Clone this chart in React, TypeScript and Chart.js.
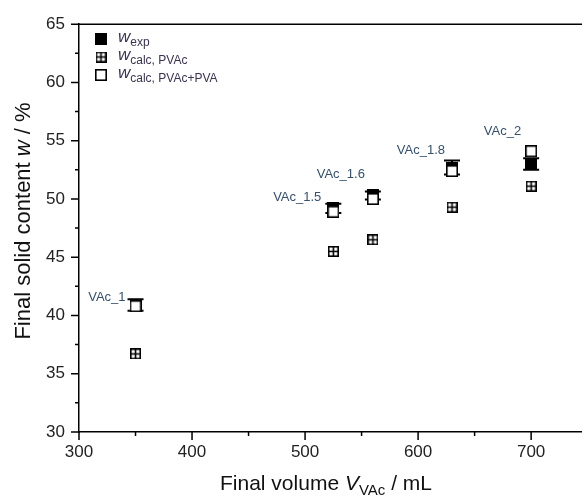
import React, { useEffect, useRef } from 'react';
import { Chart, registerables } from 'chart.js';

Chart.register(...registerables);

// ---- data ----
const sampleLabels = ['VAc_1', 'VAc_1.5', 'VAc_1.6', 'VAc_1.8', 'VAc_2'];
const finalVolume = [350, 525, 560, 630, 700];
const wExp = [40.9, 49.2, 50.3, 52.7, 53.0];
const wExpErr = [0.5, 0.4, 0.35, 0.6, 0.5];
const wCalcPVAc = [36.7, 45.5, 46.5, 49.3, 51.1];
const wCalcPVAcPVA = [40.8, 48.9, 50.0, 52.4, 54.1];
const yTickValues = [30, 35, 40, 45, 50, 55, 60, 65];
const yMinorTicks = [32.5, 37.5, 42.5, 47.5, 52.5, 57.5, 62.5];
const xTickValues = [300, 400, 500, 600, 700];
const xMinorTicks = [350, 450, 550, 650];

const FONT = '"Liberation Sans", Arial, sans-serif';

function makeMarker(kind: 'filled' | 'open' | 'cross', size: number) {
  const c = document.createElement('canvas');
  c.width = size;
  c.height = size;
  const g = c.getContext('2d')!;
  const lw = 1.6;
  if (kind === 'filled') {
    g.fillStyle = '#000';
    g.fillRect(0, 0, size, size);
  } else {
    g.fillStyle = '#fff';
    g.fillRect(0, 0, size, size);
    g.strokeStyle = '#000';
    g.lineWidth = lw;
    g.strokeRect(lw / 2, lw / 2, size - lw, size - lw);
    if (kind === 'cross') {
      g.beginPath();
      g.moveTo(size / 2, 0);
      g.lineTo(size / 2, size);
      g.moveTo(0, size / 2);
      g.lineTo(size, size / 2);
      g.stroke();
    }
  }
  return c;
}

// style for annotation placement (pixel offsets from the exp marker)
const labelOffsets: [number, number][] = [
  [-10, -8],
  [-12, -11],
  [-8, -21],
  [-7, -17],
  [-10, -33],
];

function drawParts(
  ctx: CanvasRenderingContext2D,
  parts: { t: string; italic?: boolean; sub?: boolean }[],
  x: number,
  y: number,
  size: number,
  align: 'left' | 'center',
  color: string
) {
  const subSize = Math.round(size * 0.7);
  const fontFor = (p: any) =>
    `${p.italic ? 'italic ' : ''}${p.sub ? subSize : size}px ${FONT}`;
  let total = 0;
  for (const p of parts) {
    ctx.font = fontFor(p);
    total += ctx.measureText(p.t).width;
  }
  let cx = align === 'center' ? x - total / 2 : x;
  ctx.fillStyle = color;
  ctx.textAlign = 'left';
  ctx.textBaseline = 'alphabetic';
  for (const p of parts) {
    ctx.font = fontFor(p);
    ctx.fillText(p.t, cx, p.sub ? y + size * 0.25 : y);
    cx += ctx.measureText(p.t).width;
  }
}

export default function App() {
  const ref = useRef<HTMLCanvasElement | null>(null);

  useEffect(() => {
    if (!ref.current) return;
    const mFilled = makeMarker('filled', 12);
    const mOpen = makeMarker('open', 12);
    const mCross = makeMarker('cross', 11);

    const decor = {
      id: 'decor',
      beforeDatasetsDraw(chart: any) {
        const ctx = chart.ctx as CanvasRenderingContext2D;
        const xs = chart.scales.x;
        const ys = chart.scales.y;
        ctx.save();
        ctx.strokeStyle = '#000';
        ctx.lineWidth = 2;
        finalVolume.forEach((v, i) => {
          const px = xs.getPixelForValue(v);
          const yTop = ys.getPixelForValue(wExp[i] + wExpErr[i]);
          const yBot = ys.getPixelForValue(wExp[i] - wExpErr[i]);
          ctx.beginPath();
          ctx.moveTo(px, yTop);
          ctx.lineTo(px, yBot);
          ctx.moveTo(px - 8, yTop);
          ctx.lineTo(px + 8, yTop);
          ctx.moveTo(px - 8, yBot);
          ctx.lineTo(px + 8, yBot);
          ctx.stroke();
        });
        ctx.restore();
      },
      afterDraw(chart: any) {
        const ctx = chart.ctx as CanvasRenderingContext2D;
        const { left, right, top, bottom } = chart.chartArea;
        const xs = chart.scales.x;
        const ys = chart.scales.y;
        ctx.save();
        ctx.strokeStyle = '#000';
        ctx.lineWidth = 1.5;
        // top frame line
        ctx.beginPath();
        ctx.moveTo(left, top);
        ctx.lineTo(right, top);
        ctx.stroke();
        // tick marks
        ctx.beginPath();
        yTickValues.forEach((v) => {
          const y = ys.getPixelForValue(v);
          ctx.moveTo(left - 8, y);
          ctx.lineTo(left, y);
        });
        yMinorTicks.forEach((v) => {
          const y = ys.getPixelForValue(v);
          ctx.moveTo(left - 4, y);
          ctx.lineTo(left, y);
        });
        xTickValues.forEach((v) => {
          const x = xs.getPixelForValue(v);
          ctx.moveTo(x, bottom);
          ctx.lineTo(x, bottom + 8);
        });
        xMinorTicks.forEach((v) => {
          const x = xs.getPixelForValue(v);
          ctx.moveTo(x, bottom);
          ctx.lineTo(x, bottom + 4);
        });
        ctx.stroke();

        // axis titles
        drawParts(
          ctx,
          [{ t: 'Final volume ' }, { t: 'V', italic: true }, { t: 'VAc', sub: true }, { t: ' / mL' }],
          326,
          490,
          21,
          'center',
          '#111'
        );
        ctx.save();
        ctx.translate(30, 221);
        ctx.rotate(-Math.PI / 2);
        drawParts(
          ctx,
          [{ t: 'Final solid content ' }, { t: 'w', italic: true }, { t: ' / %' }],
          0,
          0,
          22,
          'center',
          '#111'
        );
        ctx.restore();

        // legend
        const legendItems = [
          { m: mFilled, parts: [{ t: 'w', italic: true }, { t: 'exp', sub: true }] },
          { m: mCross, parts: [{ t: 'w', italic: true }, { t: 'calc, PVAc', sub: true }] },
          { m: mOpen, parts: [{ t: 'w', italic: true }, { t: 'calc, PVAc+PVA', sub: true }] },
        ];
        legendItems.forEach((it, i) => {
          const cy = 39 + i * 18;
          ctx.drawImage(it.m, 101 - it.m.width / 2, cy - it.m.height / 2);
          drawParts(ctx, it.parts as any, 118, cy + 3, 17, 'left', '#3b3350');
        });

        // sample labels
        ctx.font = `13px ${FONT}`;
        ctx.fillStyle = '#34506e';
        ctx.textAlign = 'right';
        ctx.textBaseline = 'middle';
        sampleLabels.forEach((lab, i) => {
          const px = xs.getPixelForValue(finalVolume[i]);
          const py = ys.getPixelForValue(wExp[i]);
          ctx.fillText(lab, px + labelOffsets[i][0], py + labelOffsets[i][1]);
        });
        ctx.restore();
      },
    };

    const mk = (arr: number[]) => finalVolume.map((x, i) => ({ x, y: arr[i] }));

    const chart = new Chart(ref.current, {
      type: 'scatter',
      data: {
        datasets: [
          { label: 'w_exp', data: mk(wExp), pointStyle: mFilled as any, pointRadius: 6, order: 3 },
          { label: 'w_calc,PVAc', data: mk(wCalcPVAc), pointStyle: mCross as any, pointRadius: 6, order: 2 },
          { label: 'w_calc,PVAc+PVA', data: mk(wCalcPVAcPVA), pointStyle: mOpen as any, pointRadius: 6, order: 1 },
        ],
      },
      options: {
        animation: false,
        responsive: false,
        events: [],
        layout: { autoPadding: false, padding: { left: 0, right: 0, top: 23, bottom: 0 } },
        plugins: { legend: { display: false }, tooltip: { enabled: false } },
        scales: {
          x: {
            type: 'linear',
            min: 300,
            max: 745,
            grid: { display: false, drawTicks: false },
            border: { display: true, color: '#000', width: 1.5 },
            afterBuildTicks: (s: any) => {
              s.ticks = xTickValues.map((v) => ({ value: v }));
            },
            afterFit: (s: any) => {
              s.height = 65;
              s.paddingRight = 0;
              s.paddingLeft = 0;
            },
            ticks: {
              padding: 10,
              color: '#222',
              font: { family: FONT, size: 17 },
              maxRotation: 0,
              autoSkip: false,
            },
          },
          y: {
            type: 'linear',
            min: 30,
            max: 65,
            grid: { display: false, drawTicks: false },
            border: { display: true, color: '#000', width: 1.5 },
            afterBuildTicks: (s: any) => {
              s.ticks = yTickValues.map((v) => ({ value: v }));
            },
            afterFit: (s: any) => {
              s.width = 79;
            },
            ticks: {
              padding: 14,
              color: '#222',
              font: { family: FONT, size: 17 },
              autoSkip: false,
            },
          },
        },
      },
      plugins: [decor],
    });
    return () => chart.destroy();
  }, []);

  return (
    <div style={{ position: 'absolute', left: 0, top: 0, width: 582, height: 497, background: '#fff' }}>
      <canvas ref={ref} width={582} height={497} style={{ display: 'block' }} />
    </div>
  );
}
